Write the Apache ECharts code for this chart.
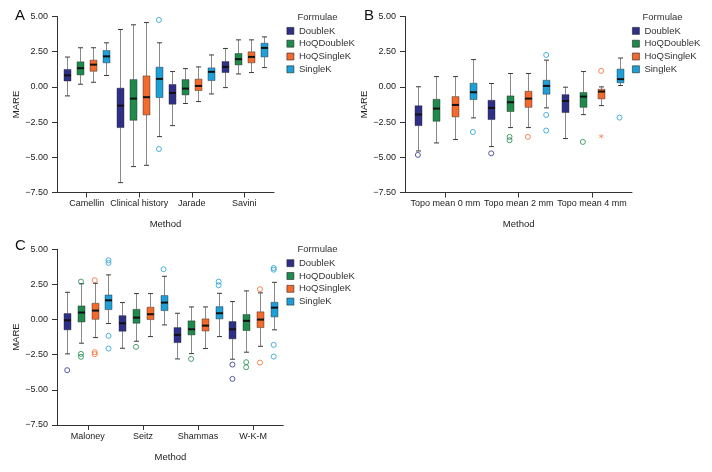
<!DOCTYPE html>
<html>
<head>
<meta charset="utf-8">
<script src="https://cdn.jsdelivr.net/npm/echarts@6/dist/echarts.min.js"></script>
<style>html,body{margin:0;padding:0;background:#fff}#chart{width:712px;height:472px}</style>
</head>
<body>
<div id="chart"></div>
<script>
// ---------- data ----------
const formulae = ['DoubleK', 'HoQDoubleK', 'HoQSingleK', 'SingleK'];
const colors = ['#2e3088', '#1f8a4c', '#f26a2c', '#1e9fd5'];
const yTicks = [-7.5, -5, -2.5, 0, 2.5, 5];

// Panel A  (box = [min, Q1, median, Q3, max])
const methodsA = ['Camellin', 'Clinical history', 'Jarade', 'Savini'];
const A_DoubleK    = [[-0.64, 0.42, 0.82, 1.24, 2.12], [-6.80, -2.89, -1.33, -0.09, 4.08], [-2.75, -1.23, -0.43, 0.17, 1.09], [-0.05, 1.02, 1.42, 1.80, 2.73]];
const A_HoQDoubleK = [[0.19, 0.85, 1.33, 1.78, 2.78], [-5.66, -2.37, -0.83, 0.52, 4.41], [-1.18, -0.57, -0.12, 0.52, 1.30], [0.92, 1.56, 1.97, 2.37, 3.34]];
const A_HoQSingleK = [[0.33, 1.11, 1.58, 1.90, 2.78], [-5.57, -1.99, -0.73, 0.78, 4.57], [-1.04, -0.26, 0.07, 0.55, 1.42], [1.02, 1.71, 2.13, 2.49, 3.34]];
const A_SingleK    = [[0.81, 1.71, 2.17, 2.58, 3.13], [-3.53, -0.76, 0.57, 1.40, 3.13], [-0.50, 0.45, 1.07, 1.35, 2.27], [1.37, 2.13, 2.77, 3.10, 3.55]];
// outliers: [method index, value]
const A_out_DoubleK = [];
const A_out_HoQDoubleK = [];
const A_out_HoQSingleK = [];
const A_out_SingleK = [[1, 4.76], [1, -4.41]];
const A_ext_HoQSingleK = [];

// Panel B
const methodsB = ['Topo mean 0 mm', 'Topo mean 2 mm', 'Topo mean 4 mm'];
const B_DoubleK    = [[-4.55, -2.75, -1.96, -1.34, 0.01], [-4.24, -2.32, -1.49, -0.95, 0.24], [-3.67, -1.82, -1.00, -0.55, -0.02]];
const B_HoQDoubleK = [[-3.98, -2.44, -1.54, -0.88, 0.73], [-2.89, -1.75, -1.09, -0.64, 0.95], [-1.97, -1.45, -0.69, -0.40, 1.09]];
const B_HoQSingleK = [[-3.74, -2.13, -1.28, -0.69, 0.73], [-2.89, -1.45, -0.83, -0.31, 0.95], [-1.33, -0.85, -0.33, -0.17, 0.00]];
const B_SingleK    = [[-2.20, -0.90, -0.38, 0.26, 1.94], [-1.49, -0.52, 0.07, 0.47, 1.90], [0.10, 0.29, 0.55, 1.26, 2.05]];
const B_out_DoubleK = [[0, -4.83], [1, -4.72]];
const B_out_HoQDoubleK = [[1, -3.55], [1, -3.79], [2, -3.91]];
const B_out_HoQSingleK = [[1, -3.55], [2, 1.14]];
const B_out_SingleK = [[0, -3.20], [1, 2.27], [1, -1.99], [1, -3.10], [2, -2.18]];
const B_ext_HoQSingleK = [[2, -3.51]];

// Panel C
const methodsC = ['Maloney', 'Seitz', 'Shammas', 'W-K-M'];
const C_DoubleK    = [[-2.44, -0.73, -0.05, 0.43, 1.94], [-2.04, -0.83, -0.26, 0.28, 1.21], [-2.80, -1.64, -1.09, -0.57, 0.45], [-2.82, -1.37, -0.69, -0.14, 1.28]];
const C_HoQDoubleK = [[-1.68, -0.17, 0.50, 0.97, 2.55], [-1.54, -0.26, 0.14, 0.73, 1.85], [-2.42, -1.09, -0.69, -0.09, 0.90], [-2.32, -0.78, -0.09, 0.36, 2.04]];
const C_HoQSingleK = [[-1.28, 0.02, 0.64, 1.16, 2.58], [-1.21, 0.00, 0.38, 0.88, 1.85], [-2.06, -0.81, -0.43, 0.05, 0.90], [-1.90, -0.57, 0.00, 0.55, 1.90]];
const C_SingleK    = [[-0.28, 0.71, 1.37, 1.75, 3.18], [-0.38, 0.64, 1.21, 1.71, 3.08], [-1.21, 0.05, 0.45, 0.92, 1.87], [-0.73, 0.19, 0.85, 1.23, 2.65]];
const C_out_DoubleK = [[0, -3.60], [3, -3.20], [3, -4.22]];
const C_out_HoQDoubleK = [[0, 2.70], [0, -2.44], [0, -2.65], [1, -1.94], [2, -2.80], [3, -3.03], [3, -3.39]];
const C_out_HoQSingleK = [[0, 2.80], [0, -2.32], [0, -2.46], [3, 2.16], [3, -3.06]];
const C_out_SingleK = [[0, 4.22], [0, 4.03], [0, -1.16], [0, -2.06], [1, 3.58], [2, 2.70], [2, 2.44], [3, 3.67], [3, 3.55], [3, -1.80], [3, -2.63]];
const C_ext_HoQSingleK = [];

// ---------- layout ----------
const FONT = "'Liberation Sans',Arial,sans-serif";
const panels = [
  { letter: 'A', methods: methodsA, boxes: [A_DoubleK, A_HoQDoubleK, A_HoQSingleK, A_SingleK],
    outs: [A_out_DoubleK, A_out_HoQDoubleK, A_out_HoQSingleK, A_out_SingleK], ext: [[], [], A_ext_HoQSingleK, []],
    frame: { left: 57, top: 16.5, width: 217, height: 176 }, dataLeft: 60.4, dataWidth: 210.2,
    legend: { left: 286.5, top: 24.5 }, formulaeXY: [297.5, 17], letterXY: [15, 15.5] },
  { letter: 'B', methods: methodsB, boxes: [B_DoubleK, B_HoQDoubleK, B_HoQSingleK, B_SingleK],
    outs: [B_out_DoubleK, B_out_HoQDoubleK, B_out_HoQSingleK, B_out_SingleK], ext: [[], [], B_ext_HoQSingleK, []],
    frame: { left: 405, top: 16.5, width: 227, height: 176 }, dataLeft: 408.7, dataWidth: 220,
    legend: { left: 632, top: 24.5 }, formulaeXY: [642.5, 17], letterXY: [364, 15.5] },
  { letter: 'C', methods: methodsC, boxes: [C_DoubleK, C_HoQDoubleK, C_HoQSingleK, C_SingleK],
    outs: [C_out_DoubleK, C_out_HoQDoubleK, C_out_HoQSingleK, C_out_SingleK], ext: [[], [], C_ext_HoQSingleK, []],
    frame: { left: 57, top: 249.3, width: 226.3, height: 175.7 }, dataLeft: 60.3, dataWidth: 220.3,
    legend: { left: 286.5, top: 256.8 }, formulaeXY: [297.5, 249], letterXY: [15, 245.5] }
];

const ASTERISK = 'path://M-0.6,-5L0.6,-5L0.6,5L-0.6,5Z M4.03,-3.02L4.63,-1.98L-4.03,3.02L-4.63,1.98Z M-4.63,-1.98L-4.03,-3.02L4.63,1.98L4.03,3.02Z';

function makeRender(color) {
  return function (params, api) {
    const x = api.value(0);
    const pMin = api.coord([x, api.value(1)]);
    const pQ1 = api.coord([x, api.value(2)]);
    const pMd = api.coord([x, api.value(3)]);
    const pQ3 = api.coord([x, api.value(4)]);
    const pMax = api.coord([x, api.value(5)]);
    const cx = Math.round(pMd[0]) + 0.5;
    const bw = 7, cw = 5;
    return {
      type: 'group',
      children: [
        { type: 'line', shape: { x1: cx, y1: pMax[1], x2: cx, y2: pQ3[1] }, style: { stroke: '#8a8a8a', lineWidth: 1 } },
        { type: 'line', shape: { x1: cx, y1: pQ1[1], x2: cx, y2: pMin[1] }, style: { stroke: '#8a8a8a', lineWidth: 1 } },
        { type: 'line', shape: { x1: cx - cw / 2, y1: pMax[1], x2: cx + cw / 2, y2: pMax[1] }, style: { stroke: '#3a3a3a', lineWidth: 1 } },
        { type: 'line', shape: { x1: cx - cw / 2, y1: pMin[1], x2: cx + cw / 2, y2: pMin[1] }, style: { stroke: '#3a3a3a', lineWidth: 1 } },
        { type: 'rect', shape: { x: cx - bw / 2, y: pQ3[1], width: bw, height: pQ1[1] - pQ3[1] },
          style: { fill: color, stroke: 'rgba(40,40,40,0.55)', lineWidth: 0.8 } },
        { type: 'line', shape: { x1: cx - bw / 2, y1: pMd[1], x2: cx + bw / 2, y2: pMd[1] }, style: { stroke: '#111', lineWidth: 2 } }
      ]
    };
  };
}

const option = {
  animation: false,
  backgroundColor: '#fff',
  grid: [], xAxis: [], yAxis: [], series: [], legend: [], graphic: []
};

const axisText = { fontFamily: FONT, fontSize: 9, color: '#222' };

panels.forEach(function (p) {
  const g0 = option.grid.length;
  option.grid.push({ left: p.frame.left, top: p.frame.top, width: p.frame.width, height: p.frame.height, containLabel: false });
  option.grid.push({ left: p.dataLeft, top: p.frame.top, width: p.dataWidth, height: p.frame.height, containLabel: false });
  const g1 = g0 + 1;
  const nSlots = p.methods.length * 4;
  const slots = [];
  for (let i = 0; i < nSlots; i++) slots.push('s' + i);

  // frame axes
  option.xAxis.push({ gridIndex: g0, type: 'category', data: [''],
    axisLine: { show: true, onZero: false, lineStyle: { color: '#333', width: 1 } },
    axisTick: { show: false }, axisLabel: { show: false }, splitLine: { show: false } });
  option.yAxis.push({ gridIndex: g0, type: 'value', min: yTicks[0], max: yTicks[yTicks.length - 1], interval: 2.5,
    axisLine: { show: true, lineStyle: { color: '#333', width: 1 } },
    axisTick: { show: true, length: 5, lineStyle: { color: '#333' } },
    axisLabel: Object.assign({ margin: 9, formatter: function (v) { return (v < 0 ? '\u2212' : '') + Math.abs(v).toFixed(2); } }, axisText),
    splitLine: { show: false },
    name: 'MARE', nameLocation: 'middle', nameGap: 32,
    nameTextStyle: { fontFamily: FONT, fontSize: 9.5, color: '#222' } });

  // data axes
  option.xAxis.push({ gridIndex: g1, type: 'category', data: p.methods,
    axisLine: { show: false, onZero: false },
    axisTick: { show: true, alignWithLabel: true, length: 5, lineStyle: { color: '#333' } },
    axisLabel: Object.assign({ margin: 7, interval: 0 }, axisText),
    splitLine: { show: false },
    name: 'Method', nameLocation: 'middle', nameGap: 27,
    nameTextStyle: { fontFamily: FONT, fontSize: 9.5, color: '#222' } });
  const xSlot = option.xAxis.length;
  option.xAxis.push({ gridIndex: g1, type: 'category', data: slots, show: false,
    axisLine: { onZero: false } });
  const ySlot = option.yAxis.length;
  option.yAxis.push({ gridIndex: g1, type: 'value', min: yTicks[0], max: yTicks[yTicks.length - 1], interval: 2.5, show: false });

  formulae.forEach(function (f, fi) {
    const c = colors[fi];
    option.series.push({
      type: 'custom', name: f, xAxisIndex: xSlot, yAxisIndex: ySlot,
      itemStyle: { color: c },
      encode: { x: 0, y: [1, 2, 3, 4, 5] },
      data: p.boxes[fi].map(function (b, gi) { return [gi * 4 + fi].concat(b); }),
      renderItem: makeRender(c), z: 2
    });
    option.series.push({
      type: 'scatter', name: f, xAxisIndex: xSlot, yAxisIndex: ySlot,
      symbol: 'circle', symbolSize: 5,
      itemStyle: { color: 'rgba(255,255,255,0)', borderColor: c, borderWidth: 1 },
      data: p.outs[fi].map(function (o) { return [o[0] * 4 + fi, o[1]]; }), z: 3
    });
    if (p.ext[fi].length) {
      option.series.push({
        type: 'scatter', name: f, xAxisIndex: xSlot, yAxisIndex: ySlot,
        symbol: ASTERISK, symbolSize: 5,
        itemStyle: { color: c },
        data: p.ext[fi].map(function (o) { return [o[0] * 4 + fi, o[1]]; }), z: 3
      });
    }
  });

  option.legend.push({
    orient: 'vertical', left: p.legend.left, top: p.legend.top, padding: 0,
    itemWidth: 7, itemHeight: 7, itemGap: 0,
    textStyle: { fontFamily: FONT, fontSize: 9.5, color: '#333', lineHeight: 12.8 },
    selectedMode: false,
    data: formulae.map(function (f, fi) {
      return { name: f, icon: 'rect', itemStyle: { color: colors[fi], borderColor: 'rgba(30,30,30,0.7)', borderWidth: 0.8 } };
    })
  });

  option.graphic.push({ type: 'text', x: p.formulaeXY[0], y: p.formulaeXY[1],
    style: { text: 'Formulae', fontFamily: FONT, fontSize: 9.5, fill: '#333', textVerticalAlign: 'middle', verticalAlign: 'middle' } });
  option.graphic.push({ type: 'text', x: p.letterXY[0], y: p.letterXY[1],
    style: { text: p.letter, fontFamily: FONT, fontSize: 15, fill: '#111', verticalAlign: 'middle', textVerticalAlign: 'middle' } });
});

const chart = echarts.init(document.getElementById('chart'), null, { renderer: 'canvas' });
chart.setOption(option);
</script>
</body>
</html>
